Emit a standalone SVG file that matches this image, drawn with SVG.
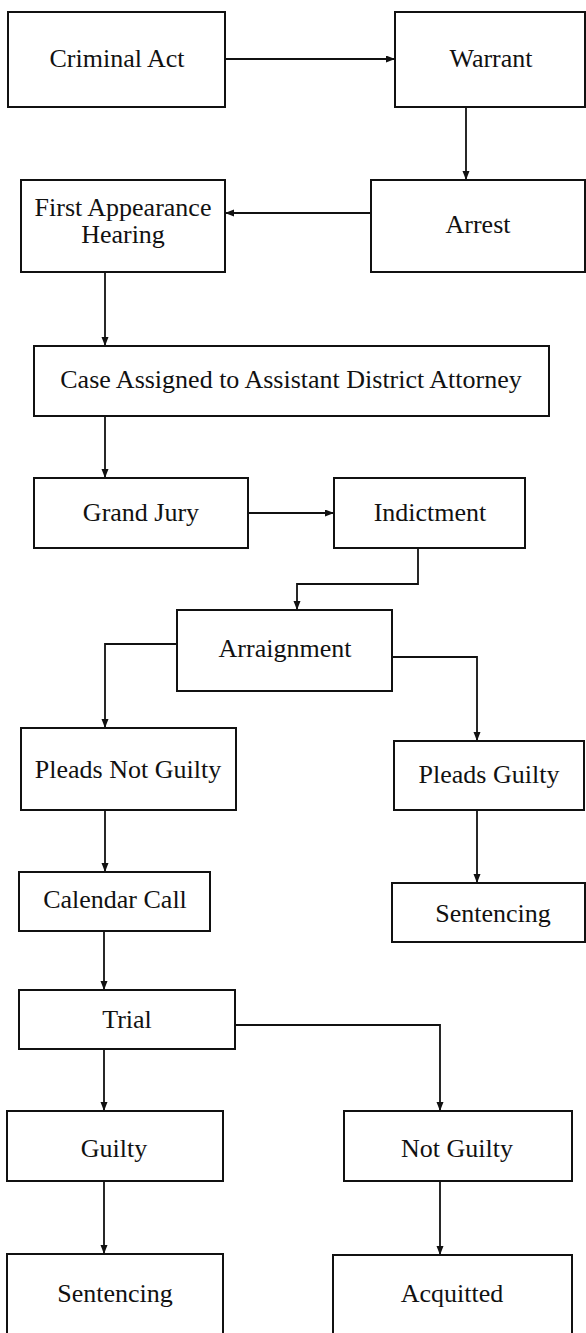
<svg xmlns="http://www.w3.org/2000/svg" width="586" height="1333" viewBox="0 0 586 1333">
<style>
  .box { fill: #fff; stroke: #111; stroke-width: 2; }
  .lbl { font-family: 'Liberation Serif', 'Times New Roman', 'DejaVu Serif', serif; font-size: 26px; fill: #111; text-anchor: middle; }
  .conn { fill: none; stroke: #111; stroke-width: 1.8; marker-end: url(#arrow); }
</style>
<defs>
  <marker id="arrow" markerUnits="userSpaceOnUse" markerWidth="10" markerHeight="8" refX="9" refY="3.5" orient="auto">
    <path d="M0,0 L9,3.5 L0,7 z" fill="#111"/>
  </marker>
</defs>
<rect width="586" height="1333" fill="#fff"/>

<g id="connectors">
  <path class="conn" d="M225,59 H395"/>
  <path class="conn" d="M466,107 V180"/>
  <path class="conn" d="M371,213 H225"/>
  <path class="conn" d="M105,272 V346"/>
  <path class="conn" d="M105,416 V478"/>
  <path class="conn" d="M248,513 H334"/>
  <path class="conn" d="M418,548 V584 H297 V610"/>
  <path class="conn" d="M177,644 H105 V728"/>
  <path class="conn" d="M392,657 H477 V741"/>
  <path class="conn" d="M105,810 V872"/>
  <path class="conn" d="M477,810 V883"/>
  <path class="conn" d="M104,931 V990"/>
  <path class="conn" d="M104,1049 V1111"/>
  <path class="conn" d="M235,1025 H440 V1111"/>
  <path class="conn" d="M104,1181 V1254"/>
  <path class="conn" d="M440,1181 V1255"/>
</g>

<g font-family="Liberation Serif, Times New Roman, serif">
<g id="criminal-act"><rect class="box" x="8" y="12" width="217" height="95"/><text class="lbl" x="117" y="67">Criminal Act</text></g>
<g id="warrant"><rect class="box" x="395" y="12" width="190" height="95"/><text class="lbl" x="491" y="67">Warrant</text></g>
<g id="arrest"><rect class="box" x="371" y="180" width="214" height="92"/><text class="lbl" x="478" y="233">Arrest</text></g>
<g id="first-appearance"><rect class="box" x="21" y="180" width="204" height="92"/><text class="lbl" x="123" y="216">First Appearance</text><text class="lbl" x="123" y="243">Hearing</text></g>
<g id="case-assigned"><rect class="box" x="34" y="346" width="515" height="70"/><text class="lbl" x="291" y="388">Case Assigned to Assistant District Attorney</text></g>
<g id="grand-jury"><rect class="box" x="34" y="478" width="214" height="70"/><text class="lbl" x="141" y="521">Grand Jury</text></g>
<g id="indictment"><rect class="box" x="334" y="478" width="191" height="70"/><text class="lbl" x="430" y="521">Indictment</text></g>
<g id="arraignment"><rect class="box" x="177" y="610" width="215" height="81"/><text class="lbl" x="285" y="657">Arraignment</text></g>
<g id="pleads-not-guilty"><rect class="box" x="21" y="728" width="215" height="82"/><text class="lbl" x="128" y="778">Pleads Not Guilty</text></g>
<g id="pleads-guilty"><rect class="box" x="394" y="741" width="190" height="69"/><text class="lbl" x="489" y="783">Pleads Guilty</text></g>
<g id="calendar-call"><rect class="box" x="19" y="872" width="191" height="59"/><text class="lbl" x="115" y="908">Calendar Call</text></g>
<g id="sentencing-plea"><rect class="box" x="392" y="883" width="193" height="59"/><text class="lbl" x="493" y="922">Sentencing</text></g>
<g id="trial"><rect class="box" x="19" y="990" width="216" height="59"/><text class="lbl" x="127" y="1028">Trial</text></g>
<g id="guilty"><rect class="box" x="7" y="1111" width="216" height="70"/><text class="lbl" x="114" y="1157">Guilty</text></g>
<g id="not-guilty"><rect class="box" x="344" y="1111" width="228" height="70"/><text class="lbl" x="457" y="1157">Not Guilty</text></g>
<g id="sentencing-trial"><rect class="box" x="7" y="1254" width="216" height="100"/><text class="lbl" x="115" y="1302">Sentencing</text></g>
<g id="acquitted"><rect class="box" x="333" y="1255" width="239" height="100"/><text class="lbl" x="452" y="1302">Acquitted</text></g>
</g>
</svg>
